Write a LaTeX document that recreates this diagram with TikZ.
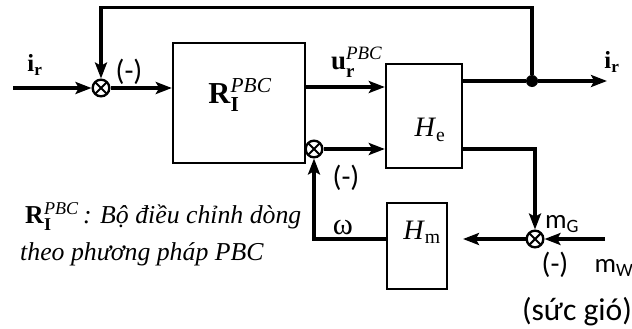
\documentclass[tikz,border=0pt]{standalone}
\usepackage{amsmath}
\usepackage{fontspec}
\setmainfont{Liberation Serif}
\newfontfamily\calib{Carlito}
\usetikzlibrary{arrows.meta,calc}

\begin{document}
\begin{tikzpicture}[
  blk/.style={rectangle, draw, line width=2pt, inner sep=0pt},
  sumj/.style={circle, draw, line width=2pt, minimum size=5mm, inner sep=0pt,
    path picture={\draw[line width=1.8pt]
      (path picture bounding box.north west) -- (path picture bounding box.south east)
      (path picture bounding box.north east) -- (path picture bounding box.south west);}},
  joint/.style={circle, fill, minimum size=3.6mm, inner sep=0pt},
  wire/.style={line width=2.8pt},
  arr/.style={wire, -{Stealth[length=4.8mm,width=3.6mm,inset=1mm]}},
  lbl/.style={inner sep=0pt, font=\fontsize{21}{24}\selectfont},
  slbl/.style={inner sep=0pt, font=\calib\fontsize{25}{28}\selectfont},
  note/.style={inner sep=0pt, anchor=base west, font=\fontsize{22}{24}\selectfont\itshape},
]
\useasboundingbox (0,0) rectangle (18.96,-9.87);

% --- blocks ---
\node[blk, minimum width=3.96cm, minimum height=3.6cm]  (R)  at (7.17,-3.09) {};
\node[blk, minimum width=2.28cm, minimum height=3.12cm] (He) at (12.72,-3.48) {};
\node[blk, minimum width=1.8cm,  minimum height=2.58cm] (Hm) at (12.51,-7.38) {};

% --- summing points ---
\node[sumj] (s1) at (3.03,-2.64) {};
\node[sumj] (s2) at (9.42,-4.47) {};
\node[sumj] (s3) at (16.05,-7.17) {};
\node[joint] (dot) at (15.96,-2.43) {};

% free ends
\coordinate (iin)  at (0.39,-2.64);
\coordinate (iout) at (18.21,-2.43);
\coordinate (mwin) at (18.15,-7.17);
\coordinate (mout) at (13.89,-7.17);

% --- arrows ---
\draw[arr] (iin) -- (s1);
\draw[arr] (s1) -- (s1 -| R.west);
\draw[arr] ([yshift=4.8mm]R.east) -- ([yshift=4.8mm]R.east -| He.west);
\draw[wire] (He.east |- dot) -- (dot);
\draw[arr] (dot) -- (iout);
\draw[arr] (dot) -- ++(0,2.2) -| (s1);
\draw[arr] (s2) -- (s2 -| He.west);
\draw[arr] (s2 -| He.east) -| (s3);
\draw[arr] (mwin) -- (s3);
\draw[arr] (s3) -- (mout);
\draw[arr] (Hm.west |- s3) -| (s2);

% --- texts in blocks ---
\node[lbl, font=\fontsize{26}{28}\selectfont] (Rtxt) at (7.2,-2.85)
  {\textbf{R}$_{\textbf{I}}^{\textit{PBC}}$};
\node[lbl, font=\fontsize{24}{26}\selectfont] (Hetxt) at (12.9,-3.9) {\textit{H}\textsubscript{e}};
\node[lbl, font=\fontsize{24}{26}\selectfont] (Hmtxt) at (12.66,-6.96) {\textit{H}\textsubscript{m}};

% --- signal labels ---
\node[lbl] (lir)    at (1.05,-1.95)  {\textbf{i}$_{\textbf{r}}$};
\node[lbl, font=\fontsize{23}{26}\selectfont] (lu) at (10.7,-1.86) {\textbf{u}$_{\textbf{r}}^{\textit{PBC}}$};
\node[lbl] (lirout) at (18.36,-1.86) {\textbf{i}$_{\textbf{r}}$};
\node[lbl, font=\fontsize{26}{28}\selectfont] (lw) at (10.29,-6.84) {ω};
\node[slbl] (neg1) at (3.87,-2.16)  {(-)};
\node[slbl] (neg2) at (10.38,-5.34) {(-)};
\node[slbl] (neg3) at (16.65,-7.95) {(-)};
\node[slbl, font=\calib\fontsize{23}{26}\selectfont] (lmg) at (16.86,-6.72) {m\textsubscript{G}};
\node[slbl, font=\calib\fontsize{23}{26}\selectfont] (lmw) at (18.42,-8.04) {m\textsubscript{W}};
\node[slbl, font=\calib\fontsize{27}{30}\selectfont] (gio) at (17.31,-9.36) {(sức gió)};

% --- legend ---
\node[note] (note1) at (0.75,-6.69) {\upshape\textbf{R}$_{\textbf{I}}^{\textit{PBC}}$\,\itshape: Bộ điều chỉnh dòng};
\node[note] (note2) at (0.6,-7.8) {theo phương pháp PBC};

\end{tikzpicture}
\end{document}
